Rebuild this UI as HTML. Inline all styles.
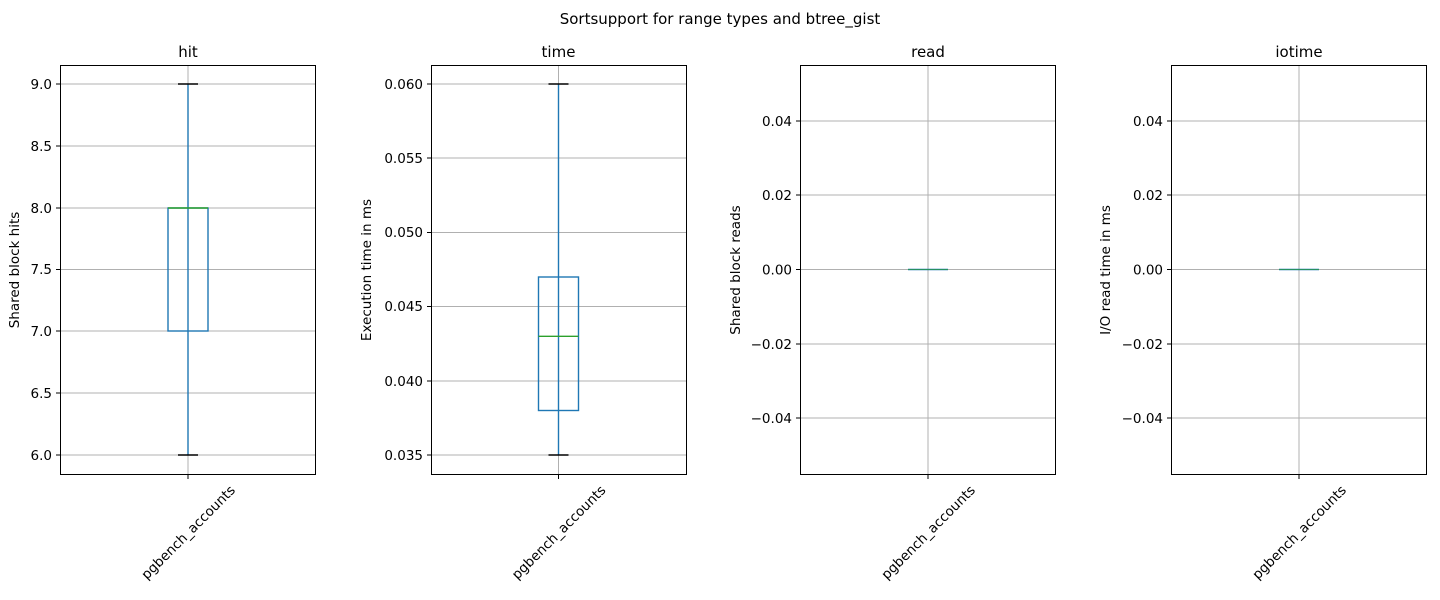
<!DOCTYPE html>
<html><head><meta charset="utf-8"><style>body{margin:0;background:#fff}svg{display:block;font-family:"DejaVu Sans","Liberation Sans",sans-serif}</style></head><body>
<svg width="1440" height="600" xmlns="http://www.w3.org/2000/svg">
<text x="720" y="24" font-size="15" text-anchor="middle">Sortsupport for range types and btree_gist</text>
<g font-size="13.5" fill="#000">
<!-- Panel 1 -->
<g>
<text x="188" y="57" font-size="15" text-anchor="middle">hit</text>
<g stroke="#b0b0b0" stroke-width="1">
<line x1="60" x2="315" y1="84" y2="84"/><line x1="60" x2="315" y1="146" y2="146"/><line x1="60" x2="315" y1="208" y2="208"/><line x1="60" x2="315" y1="269.5" y2="269.5"/><line x1="60" x2="315" y1="331" y2="331"/><line x1="60" x2="315" y1="393" y2="393"/><line x1="60" x2="315" y1="455" y2="455"/>
<line x1="188" x2="188" y1="65" y2="474"/></g>
<line x1="188" x2="188" y1="84" y2="455" stroke="#1f77b4" stroke-width="1.4"/>
<rect x="168" y="208" width="40" height="123" fill="none" stroke="#1f77b4" stroke-width="1.4"/>
<line x1="168" x2="208" y1="208" y2="208" stroke="#2ca02c" stroke-width="1.4"/>
<line x1="178" x2="198" y1="84" y2="84" stroke="#000" stroke-width="1.4"/><line x1="178" x2="198" y1="455" y2="455" stroke="#000" stroke-width="1.4"/>
<rect x="60.5" y="65.5" width="255" height="409" fill="none" stroke="#000"/>
<g text-anchor="end"><text x="52" y="89">9.0</text><text x="52" y="151">8.5</text><text x="52" y="213">8.0</text><text x="52" y="274">7.5</text><text x="52" y="336">7.0</text><text x="52" y="398">6.5</text><text x="52" y="460">6.0</text></g>
<g stroke="#000"><line x1="56" x2="60" y1="84" y2="84"/><line x1="56" x2="60" y1="146" y2="146"/><line x1="56" x2="60" y1="208" y2="208"/><line x1="56" x2="60" y1="269.5" y2="269.5"/><line x1="56" x2="60" y1="331" y2="331"/><line x1="56" x2="60" y1="393" y2="393"/><line x1="56" x2="60" y1="455" y2="455"/><line x1="188" x2="188" y1="474" y2="479"/></g>
<text transform="translate(19,270) rotate(-90)" text-anchor="middle">Shared block hits</text>
<text transform="translate(236,491) rotate(-45)" text-anchor="end">pgbench_accounts</text>
</g>
<!-- Panel 2 -->
<g>
<text x="558.5" y="57" font-size="15" text-anchor="middle">time</text>
<g stroke="#b0b0b0"><line x1="431" x2="686" y1="84" y2="84"/><line x1="431" x2="686" y1="158" y2="158"/><line x1="431" x2="686" y1="232.5" y2="232.5"/><line x1="431" x2="686" y1="306.5" y2="306.5"/><line x1="431" x2="686" y1="381" y2="381"/><line x1="431" x2="686" y1="455" y2="455"/><line x1="558.5" x2="558.5" y1="65" y2="474"/></g>
<line x1="558.5" x2="558.5" y1="84" y2="455" stroke="#1f77b4" stroke-width="1.4"/>
<rect x="538.5" y="277" width="40" height="133.5" fill="none" stroke="#1f77b4" stroke-width="1.4"/>
<line x1="538.5" x2="578.5" y1="336.3" y2="336.3" stroke="#2ca02c" stroke-width="1.4"/>
<line x1="548.5" x2="568.5" y1="84" y2="84" stroke="#000" stroke-width="1.4"/><line x1="548.5" x2="568.5" y1="455" y2="455" stroke="#000" stroke-width="1.4"/>
<rect x="431.5" y="65.5" width="255" height="409" fill="none" stroke="#000"/>
<g text-anchor="end"><text x="423" y="89">0.060</text><text x="423" y="163">0.055</text><text x="423" y="237">0.050</text><text x="423" y="311">0.045</text><text x="423" y="386">0.040</text><text x="423" y="460">0.035</text></g>
<g stroke="#000"><line x1="427" x2="431" y1="84" y2="84"/><line x1="427" x2="431" y1="158" y2="158"/><line x1="427" x2="431" y1="232.5" y2="232.5"/><line x1="427" x2="431" y1="306.5" y2="306.5"/><line x1="427" x2="431" y1="381" y2="381"/><line x1="427" x2="431" y1="455" y2="455"/><line x1="558.5" x2="558.5" y1="474" y2="479"/></g>
<text transform="translate(371,270) rotate(-90)" text-anchor="middle">Execution time in ms</text>
<text transform="translate(606.5,491) rotate(-45)" text-anchor="end">pgbench_accounts</text>
</g>
<!-- Panel 3 -->
<g>
<text x="928" y="57" font-size="15" text-anchor="middle">read</text>
<g stroke="#b0b0b0"><line x1="800" x2="1056" y1="121" y2="121"/><line x1="800" x2="1056" y1="195" y2="195"/><line x1="800" x2="1056" y1="269.5" y2="269.5"/><line x1="800" x2="1056" y1="344" y2="344"/><line x1="800" x2="1056" y1="418" y2="418"/><line x1="928" x2="928" y1="65" y2="474"/></g>
<line x1="908" x2="948" y1="269.5" y2="269.5" stroke="#1f77b4" stroke-width="1.4"/>
<line x1="908" x2="948" y1="269.5" y2="269.5" stroke="#2ca02c" stroke-width="1" opacity="0.6"/>
<rect x="800.5" y="65.5" width="255" height="409" fill="none" stroke="#000"/>
<g text-anchor="end"><text x="792" y="126">0.04</text><text x="792" y="200">0.02</text><text x="792" y="274.5">0.00</text><text x="792" y="349">−0.02</text><text x="792" y="423">−0.04</text></g>
<g stroke="#000"><line x1="796" x2="800" y1="121" y2="121"/><line x1="796" x2="800" y1="195" y2="195"/><line x1="796" x2="800" y1="269.5" y2="269.5"/><line x1="796" x2="800" y1="344" y2="344"/><line x1="796" x2="800" y1="418" y2="418"/><line x1="928" x2="928" y1="474" y2="479"/></g>
<text transform="translate(740,270) rotate(-90)" text-anchor="middle">Shared block reads</text>
<text transform="translate(976,491) rotate(-45)" text-anchor="end">pgbench_accounts</text>
</g>
<!-- Panel 4 -->
<g>
<text x="1299" y="57" font-size="15" text-anchor="middle">iotime</text>
<g stroke="#b0b0b0"><line x1="1171" x2="1427" y1="121" y2="121"/><line x1="1171" x2="1427" y1="195" y2="195"/><line x1="1171" x2="1427" y1="269.5" y2="269.5"/><line x1="1171" x2="1427" y1="344" y2="344"/><line x1="1171" x2="1427" y1="418" y2="418"/><line x1="1299" x2="1299" y1="65" y2="474"/></g>
<line x1="1279" x2="1319" y1="269.5" y2="269.5" stroke="#1f77b4" stroke-width="1.4"/>
<line x1="1279" x2="1319" y1="269.5" y2="269.5" stroke="#2ca02c" stroke-width="1" opacity="0.6"/>
<rect x="1171.5" y="65.5" width="255" height="409" fill="none" stroke="#000"/>
<g text-anchor="end"><text x="1163" y="126">0.04</text><text x="1163" y="200">0.02</text><text x="1163" y="274.5">0.00</text><text x="1163" y="349">−0.02</text><text x="1163" y="423">−0.04</text></g>
<g stroke="#000"><line x1="1167" x2="1171" y1="121" y2="121"/><line x1="1167" x2="1171" y1="195" y2="195"/><line x1="1167" x2="1171" y1="269.5" y2="269.5"/><line x1="1167" x2="1171" y1="344" y2="344"/><line x1="1167" x2="1171" y1="418" y2="418"/><line x1="1299" x2="1299" y1="474" y2="479"/></g>
<text transform="translate(1110,270) rotate(-90)" text-anchor="middle">I/O read time in ms</text>
<text transform="translate(1347,491) rotate(-45)" text-anchor="end">pgbench_accounts</text>
</g>
</g>
</svg>
</body></html>
